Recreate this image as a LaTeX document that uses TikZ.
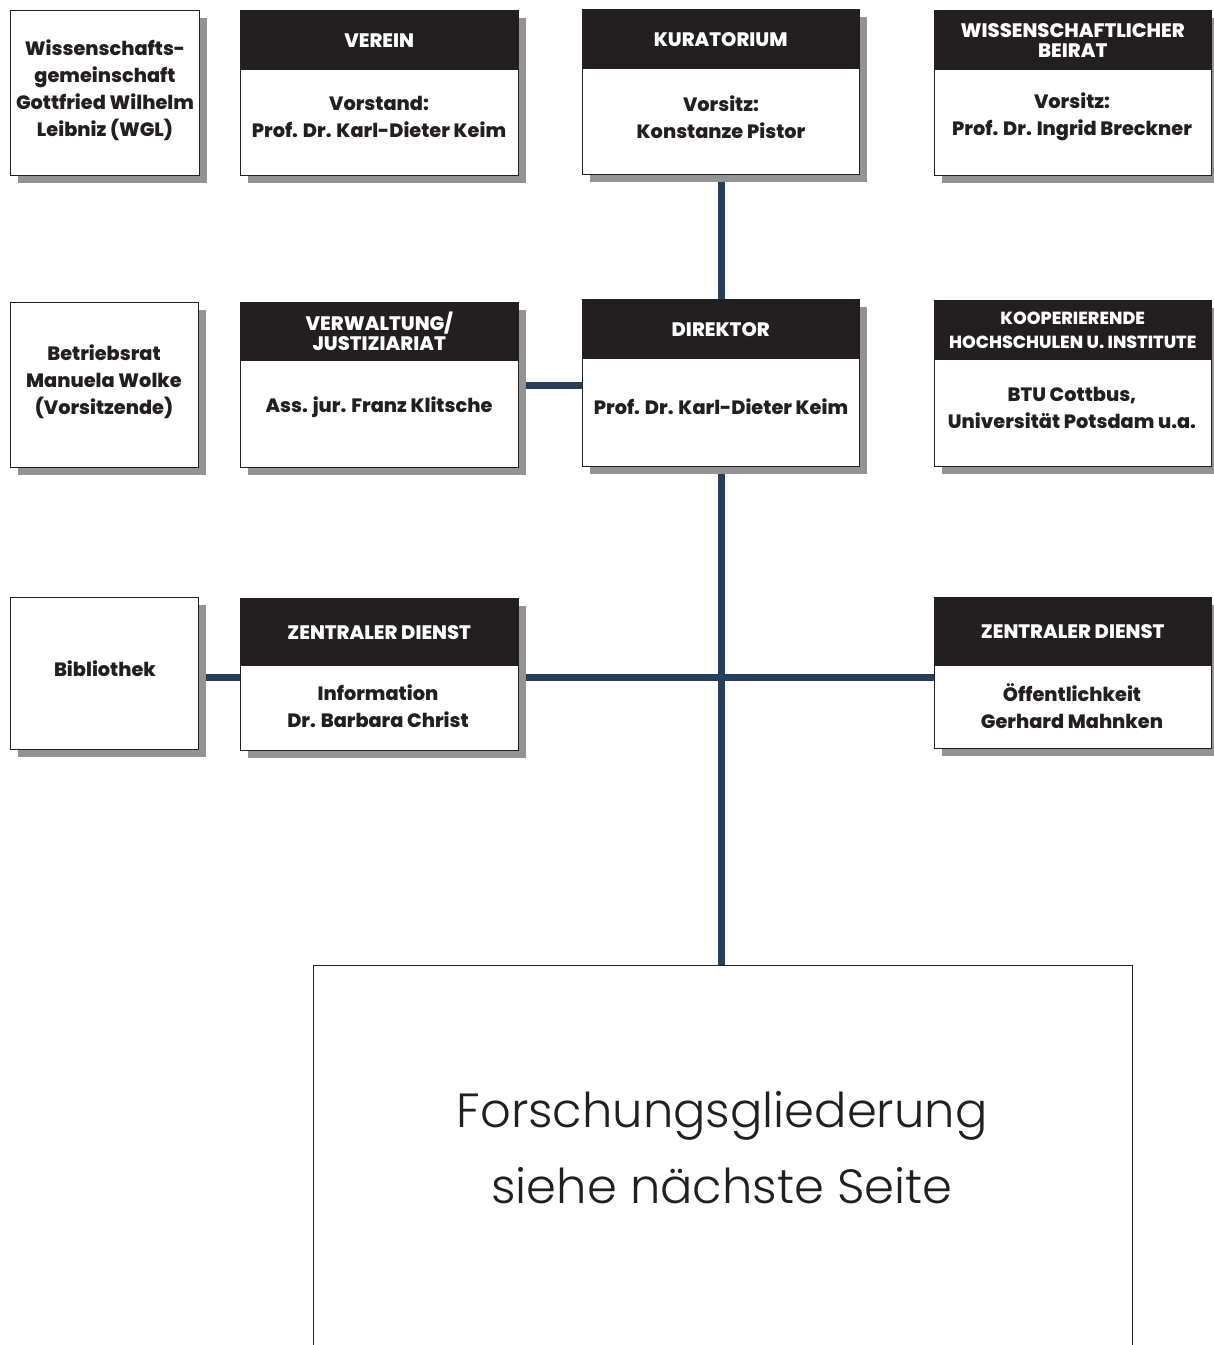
\documentclass[tikz,border=0pt]{standalone}
\usepackage{fontspec}
\setmainfont{Poppins}[BoldFont=* ExtraBold]
\newfontfamily\lightfont{Poppins}[UprightFont=* Light]
\usepackage{tikz}
\usetikzlibrary{shadows}

\definecolor{headblack}{HTML}{231F20}
\definecolor{linkblue}{HTML}{23405F}
\definecolor{shadowgray}{HTML}{939393}

\newcommand{\bodyfont}{\fontsize{19.3}{27}\selectfont\bfseries}
\newcommand{\headfont}{\fontsize{19.5}{20}\selectfont\bfseries}

\begin{document}
\begin{tikzpicture}[x=1pt, y=-1pt,
  orgbox/.style={draw=headblack, line width=1pt, fill=white, anchor=north west, inner sep=0pt,
    drop shadow={shadow xshift=7pt, shadow yshift=-7pt, fill=shadowgray, opacity=1}},
  orghead/.style={fill=headblack, anchor=north west, inner sep=0pt, text=white, font=\headfont, align=center},
  orgtext/.style={font=\bodyfont, text=headblack, align=center, inner sep=0pt},
  link/.style={draw=linkblue, line width=7pt}]
\clip (0,0) rectangle (1214,1345);

% Verbindungen
\coordinate (hub) at (720.5,677);
\node[orgbox, minimum width=277pt, minimum height=167pt] (dir) at (582,299) {};
\node[orgbox, minimum width=277pt, minimum height=165pt] (kurat) at (582,9) {};
\node[orgbox, minimum width=278pt, minimum height=165pt] (verw) at (240,302) {};
\node[orgbox, minimum width=278pt, minimum height=152pt] (zdinfo) at (240,598) {};
\node[orgbox, minimum width=277pt, minimum height=151pt] (zdoeff) at (934,597) {};
\node[orgbox, minimum width=188pt, minimum height=152pt] (bib) at (10,597) {};
\draw[link] (kurat.south) -- (dir.north);
\draw[link] (verw.east) -- (verw.east -| dir.west);
\draw[link] (dir.south) -- (dir.south |- 0,965);
\draw[link] (zdinfo.east |- hub) -- (zdoeff.west |- hub);
\draw[link] (bib.east |- hub) -- (zdinfo.west |- hub);

% obere Reihe
\node[orgbox, minimum width=189pt, minimum height=165pt] (wgl) at (10,10) {};
\node[orgtext] at (105,90) {Wissenschafts-\\gemeinschaft\\Gottfried Wilhelm\\Leibniz (WGL)};

\node[orgbox, minimum width=278pt, minimum height=165pt] (verein) at (240,10) {};
\node[orghead, minimum width=278pt, minimum height=60pt] (vereinhead) at (240,10) {VEREIN};
\node[orgtext] at (379,117) {Vorstand:\\Prof. Dr. Karl-Dieter Keim};

\node[orgbox, minimum width=277pt, minimum height=165pt] (kurat) at (582,9) {};
\node[orghead, minimum width=277pt, minimum height=60pt] (kurathead) at (582,9) {KURATORIUM};
\node[orgtext] at (721,117) {Vorsitz:\\Konstanze Pistor};

\node[orgbox, minimum width=277pt, minimum height=165pt] (wiss) at (934,10) {};
\node[orghead, minimum width=277pt, minimum height=60pt] (wisshead) at (934,10) {WISSENSCHAFTLICHER\\BEIRAT};
\node[orgtext] at (1072,117) {Vorsitz:\\Prof. Dr. Ingrid Breckner};

% mittlere Reihe
\node[orgbox, minimum width=188pt, minimum height=165pt] (betr) at (10,302) {};
\node[orgtext] at (104,382) {Betriebsrat\\Manuela Wolke\\(Vorsitzende)};

\node[orgbox, minimum width=278pt, minimum height=165pt] (verw) at (240,302) {};
\node[orghead, minimum width=278pt, minimum height=59pt] (verwhead) at (240,302) {VERWALTUNG/\\JUSTIZIARIAT};
\node[orgtext] at (379,407) {Ass. jur. Franz Klitsche};

\node[orgbox, minimum width=277pt, minimum height=167pt] (dir) at (582,299) {};
\node[orghead, minimum width=277pt, minimum height=60pt] (dirhead) at (582,299) {DIREKTOR};
\node[orgtext] at (721,407) {Prof. Dr. Karl-Dieter Keim};

\node[orgbox, minimum width=277pt, minimum height=166pt] (koop) at (934,300) {};
\node[orghead, minimum width=277pt, minimum height=60pt, font=\fontsize{17.5}{24}\selectfont\bfseries] (koophead) at (934,300) {KOOPERIERENDE\\HOCHSCHULEN U. INSTITUTE};
\node[orgtext] at (1072,408) {BTU Cottbus,\\Universität Potsdam u.a.};

% untere Reihe
\node[orgbox, minimum width=188pt, minimum height=152pt] (bib) at (10,597) {};
\node[orgtext] at (105,669) {Bibliothek};

\node[orgbox, minimum width=278pt, minimum height=152pt] (zdinfo) at (240,598) {};
\node[orghead, minimum width=278pt, minimum height=68pt] (zdinfohead) at (240,598) {ZENTRALER DIENST};
\node[orgtext] at (378,706) {Information\\Dr. Barbara Christ};

\node[orgbox, minimum width=277pt, minimum height=151pt] (zdoeff) at (934,597) {};
\node[orghead, minimum width=277pt, minimum height=69pt] (zdoeffhead) at (934,597) {ZENTRALER DIENST};
\node[orgtext] at (1072,706) {Öffentlichkeit\\Gerhard Mahnken};

% Forschung
\draw[headblack, line width=1pt] (313,1360) -- (313,965) coordinate (forsch) -- (1132,965) -- (1132,1360);
\node[font=\lightfont\fontsize{48}{76}\selectfont, text=headblack, align=center] (forschtext) at (722,1148) {Forschungsgliederung\\siehe nächste Seite};
\end{tikzpicture}
\end{document}
